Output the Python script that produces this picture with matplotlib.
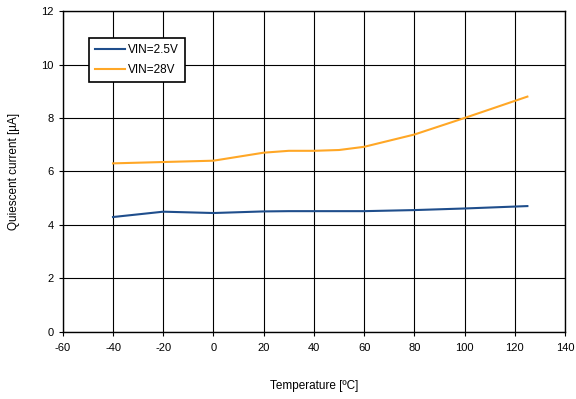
import matplotlib
matplotlib.use("Agg")
import matplotlib.pyplot as plt

plt.rcParams["font.family"] = ["Liberation Sans", "DejaVu Sans"]
plt.rcParams["axes.unicode_minus"] = False

temp = [-40, -20, 0, 20, 30, 40, 50, 60, 80, 100, 125]
vin_25 = [4.29, 4.49, 4.44, 4.50, 4.51, 4.51, 4.51, 4.51, 4.55, 4.61, 4.70]
vin_28 = [6.30, 6.35, 6.40, 6.70, 6.77, 6.77, 6.80, 6.92, 7.38, 8.00, 8.80]

x_ticks = list(range(-60, 141, 20))
y_ticks = list(range(0, 13, 2))

fig = plt.figure(figsize=(5.76, 3.99), dpi=100)
ax = fig.add_axes([0.109, 0.169, 0.872, 0.803])

ax.plot(temp, vin_25, color="#1F4E8C", linewidth=1.5, label="VIN=2.5V")
ax.plot(temp, vin_28, color="#FFA726", linewidth=1.5, label="VIN=28V")

ax.set_xlim(-60, 140)
ax.set_ylim(0, 12)
ax.set_xticks(x_ticks)
ax.set_yticks(y_ticks)
ax.tick_params(labelsize=8, length=3, width=0.8, color="black")
ax.tick_params(axis="x", pad=5)
ax.grid(color="black", linewidth=0.8)
for s in ax.spines.values():
    s.set_linewidth(1.0)

ax.set_xlabel("Temperature [ºC]", fontsize=8.5, labelpad=20)
ax.set_ylabel("Quiescent current [µA]", fontsize=8.5, labelpad=15)

leg = ax.legend(loc="upper left", bbox_to_anchor=(0.04, 0.935), fontsize=8.5,
                frameon=True, fancybox=False, framealpha=1, edgecolor="black",
                handlelength=2.6, handletextpad=0.2, borderpad=0.5, labelspacing=0.7)
leg.get_frame().set_linewidth(1.2)

fig.savefig("out.png", dpi=100)
